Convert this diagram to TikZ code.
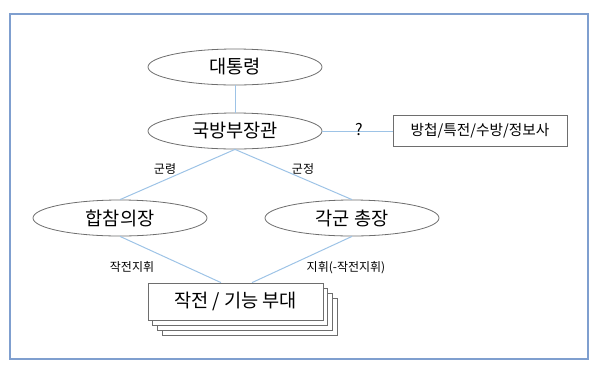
\documentclass[tikz,border=0pt]{standalone}
\usepackage{fontspec}
\setmainfont{Noto Sans CJK KR}
\usetikzlibrary{shapes.geometric}
\definecolor{frameblue}{RGB}{127,159,207}
\definecolor{linkblue}{RGB}{157,195,230}
\definecolor{edgegray}{RGB}{110,110,110}
\begin{document}
\begin{tikzpicture}[x=0.75pt,y=-0.75pt,
  oval/.style={ellipse,draw=edgegray,line width=0.6pt,fill=white,minimum width=130.5pt,minimum height=27pt,inner sep=0pt,font=\fontsize{14}{16}\selectfont},
  link/.style={draw=linkblue,line width=0.75pt},
  lbl/.style={font=\fontsize{9}{11}\selectfont,inner sep=0pt},
  rbox/.style={rectangle,draw=edgegray,line width=0.6pt,fill=white,minimum width=130.5pt,minimum height=23.25pt,inner sep=0pt,font=\fontsize{11}{13}\selectfont},
  unitbox/.style={rectangle,draw=edgegray,line width=0.6pt,fill=white,minimum width=131.25pt,minimum height=27.75pt,inner sep=0pt,font=\fontsize{14}{16}\selectfont}]
\useasboundingbox (0,0) rectangle (600,369);
\draw[frameblue,line width=1.5pt] (10,14) rectangle (588,359);
% nodes
\node[oval] (pres) at (235,67) {대통령};
\node[oval] (mnd) at (235,131) {국방부장관};
\node[oval] (jcs) at (120,218) {합참의장};
\node[oval] (chiefs) at (352,218) {각군 총장};
\node[rbox] (intel) at (480,131) {방첩/특전/수방/정보사};
\node[unitbox] (u3) at (249.6,316.5) {};
\node[unitbox] (u2) at (244.9,311.5) {};
\node[unitbox] (u1) at (240.2,306.5) {};
\node[unitbox] (unit) at (235.5,301.5) {작전 / 기능 부대};
\coordinate (ua) at ([xshift=-10.9pt]unit.north);
\coordinate (ub) at ([xshift=12.4pt]unit.north);
% connectors
\draw[link] (pres) -- (mnd);
\draw[link] (mnd.east) -- (intel.west);
\draw[link] (mnd.south) -- (jcs.north);
\draw[link] (mnd.south) -- (chiefs.north);
\draw[link] (jcs.south) -- (ua);
\draw[link] (chiefs.south) -- (ub);
% labels
\node[font=\fontsize{12}{14}\selectfont,inner sep=0pt] (q) at (359,129.5) {?};
\node[lbl] (l1) at (165,169) {군령};
\node[lbl] (l2) at (303,169) {군정};
\node[lbl] (l3) at (132,267) {작전지휘};
\node[lbl] (l4) at (346,268) {지휘(-작전지휘)};
\end{tikzpicture}
\end{document}
